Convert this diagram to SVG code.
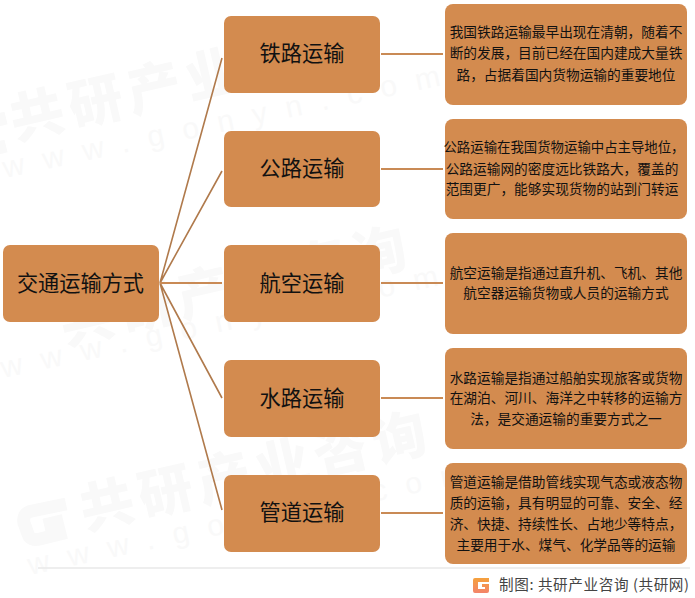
<svg xmlns="http://www.w3.org/2000/svg" width="695" height="598" viewBox="0 0 695 598">
<defs>
<style>
.box{fill:#d38b4f}
.c{stroke:#b07a4c;stroke-width:1.6;fill:none}
.c2{stroke:#c98a55;stroke-width:2;fill:none}
.t{font-family:"Noto Sans CJK SC","Liberation Sans",sans-serif;fill:#111;text-anchor:middle}
.big{font-size:21.2px}
.small{font-size:13.7px}
.wm{font-family:"Noto Sans CJK SC","Liberation Sans",sans-serif;font-weight:900;fill:#f9f9f9;font-size:54px;letter-spacing:6px}
.wm2{font-family:"Liberation Sans",sans-serif;fill:#f9f9f9;font-size:30px;letter-spacing:19px}
.wg{fill:none;stroke:#f9f9f9;stroke-width:13}
</style>
<linearGradient id="lg" x1="0" y1="0" x2="0" y2="1"><stop offset="0" stop-color="#f5a13c"/><stop offset="1" stop-color="#f3846a"/></linearGradient>
</defs>
<rect width="695" height="598" fill="#fff"/>
<g id="watermark">
<path class="wg" d="M66 504L32 511Q22 513 24 523L28 534Q30 541 40 539L60 534L57 522L44 525" />
<path class="wg" d="M6 118L-10 122V150L6 146"/>
<text class="wm" transform="translate(15 140) rotate(-13)">共研产业咨询</text>
<text class="wm2" transform="translate(5 178) rotate(-12)">www.gonyn.com</text>
<text class="wm" transform="translate(65 345) rotate(-13)">共研产业咨询</text>
<text class="wm2" transform="translate(3 378) rotate(-12)">www.gonyn.com</text>
<text class="wm" transform="translate(85 530) rotate(-13)">共研产业咨询</text>
<text class="wm2" transform="translate(30 575) rotate(-12)">www.gonyn.com</text>
</g>
<g id="connectors">
<path class="c" d="M160 283L222 58M160 283L222 171M160 283L222 398M160 283L222 510"/>
<path class="c2" d="M160 283H222M381 54H443M381 169H443M381 283H443M381 398H443M381 513H443"/>
</g>
<g id="root"><rect class="box" x="3" y="245" width="156" height="77" rx="7"/><text class="t big" x="80.500" y="291">交通运输方式</text></g>
<g id="n1"><rect class="box" x="224" y="16" width="156" height="77" rx="7"/><text class="t big" x="302" y="61">铁路运输</text></g>
<g id="n2"><rect class="box" x="224" y="131" width="156" height="76" rx="7"/><text class="t big" x="302" y="176">公路运输</text></g>
<g id="n3"><rect class="box" x="224" y="245" width="156" height="77" rx="7"/><text class="t big" x="302" y="291">航空运输</text></g>
<g id="n4"><rect class="box" x="224" y="360" width="156" height="77" rx="7"/><text class="t big" x="302" y="406">水路运输</text></g>
<g id="n5"><rect class="box" x="224" y="475" width="156" height="77" rx="7"/><text class="t big" x="302" y="520">管道运输</text></g>
<g id="d1"><rect class="box" x="445" y="4" width="242" height="101" rx="8"/>
<text class="t small" x="566" y="37">我国铁路运输最早出现在清朝，随着不</text>
<text class="t small" x="566" y="58">断的发展，目前已经在国内建成大量铁</text>
<text class="t small" x="566" y="80">路，占据着国内货物运输的重要地位</text></g>
<g id="d2"><rect class="box" x="445" y="119" width="242" height="100" rx="8"/>
<text class="t" font-size="13.4" x="564" y="152">公路运输在我国货物运输中占主导地位，</text>
<text class="t small" x="562" y="174">公路运输网的密度远比铁路大，覆盖的</text>
<text class="t small" x="562" y="194">范围更广，能够实现货物的站到门转运</text></g>
<g id="d3"><rect class="box" x="445" y="233" width="242" height="101" rx="8"/>
<text class="t small" x="566" y="278">航空运输是指通过直升机、飞机、其他</text>
<text class="t small" x="566" y="298">航空器运输货物或人员的运输方式</text></g>
<g id="d4"><rect class="box" x="445" y="348" width="242" height="101" rx="8"/>
<text class="t small" x="566" y="383">水路运输是指通过船舶实现旅客或货物</text>
<text class="t small" x="566" y="403">在湖泊、河川、海洋之中转移的运输方</text>
<text class="t small" x="566" y="424">法，是交通运输的重要方式之一</text></g>
<g id="d5"><rect class="box" x="445" y="463" width="242" height="101" rx="8"/>
<text class="t small" x="566" y="487">管道运输是借助管线实现气态或液态物</text>
<text class="t small" x="566" y="508">质的运输，具有明显的可靠、安全、经</text>
<text class="t small" x="566" y="529">济、快捷、持续性长、占地少等特点，</text>
<text class="t small" x="566" y="550">主要用于水、煤气、化学品等的运输</text></g>
<g id="footer">
<line x1="38" y1="568" x2="690" y2="568" stroke="#e8e8e8" stroke-width="1.5"/>
<path d="M473 580Q473 578 475 578H489V582H478V589H485V587H482V584H489V591Q489 593 487 593H475Q473 593 473 591Z" fill="url(#lg)"/>
<text x="499" y="590" font-family="'Noto Sans CJK SC','Liberation Sans',sans-serif" font-size="14.6" letter-spacing="0.6" fill="#444">制图: 共研产业咨询 (共研网)</text>
</g>
</svg>
